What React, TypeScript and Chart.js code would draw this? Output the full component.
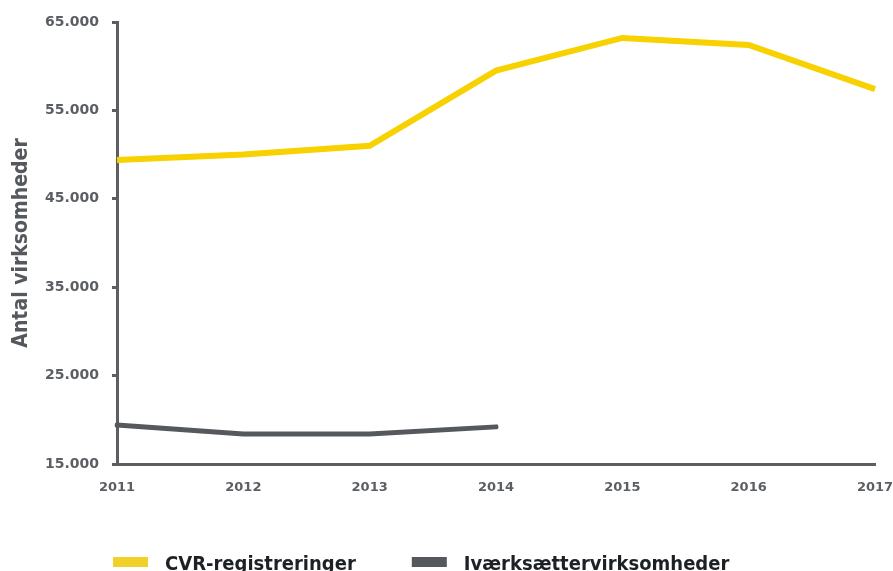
import React, { useEffect, useRef } from "react";
import { Chart, registerables } from "chart.js";

Chart.register(...registerables);

const years = ["2011", "2012", "2013", "2014", "2015", "2016", "2017"];
const cvrValues = [49400, 50000, 51000, 59500, 63200, 62400, 57400];
const ivaerkValues = [19400, 18400, 18400, 19200, null, null, null];
const seriesLabels = ["CVR-registreringer", "Iværksættervirksomheder"];
const yMin = 15000;
const yMax = 65000;
const yStep = 10000;
const yTitle = "Antal virksomheder";

const YELLOW = "#f7d100";
const GRAY = "#55595e";
const AXIS = "#5b5e63";
const FONT = "'DejaVu Sans', sans-serif";
const FONT_C = "'DejaVu Sans Condensed', 'DejaVu Sans', sans-serif";

function fmt(v: number): string {
  const s = Math.round(v).toString();
  return s.replace(/\B(?=(\d{3})+(?!\d))/g, ".");
}

const legendPlugin = {
  id: "customLegend",
  afterDraw(chart: any) {
    const ctx = chart.ctx;
    const ca = chart.chartArea;
    ctx.save();
    ctx.font = `bold 20px ${FONT_C}`;
    ctx.textBaseline = "alphabetic";
    let x = ca.left - 4;
    const boxTop = 557;
    chart.data.datasets.forEach((ds: any) => {
      ctx.fillStyle = ds.legendColor || ds.borderColor;
      ctx.fillRect(x, boxTop, 35, 10);
      const tx = x + 52;
      ctx.fillStyle = "#1d2125";
      ctx.fillText(ds.label, tx, 570);
      x = tx + ctx.measureText(ds.label).width + 56;
    });
    ctx.restore();
  },
};

export default function App() {
  const ref = useRef<HTMLCanvasElement | null>(null);
  useEffect(() => {
    if (!ref.current) return;
    const chart = new Chart(ref.current, {
      type: "line",
      data: {
        labels: years,
        datasets: [
          {
            label: seriesLabels[0],
            data: cvrValues,
            borderColor: YELLOW,
            legendColor: "#f2d02a",
            borderWidth: 6,
            pointRadius: 0,
            tension: 0,
            borderCapStyle: "butt",
            borderJoinStyle: "miter",
          } as any,
          {
            label: seriesLabels[1],
            data: ivaerkValues,
            borderColor: GRAY,
            legendColor: GRAY,
            borderWidth: 5,
            pointRadius: 0,
            tension: 0,
            borderCapStyle: "round",
            borderJoinStyle: "round",
            spanGaps: false,
          } as any,
        ],
      },
      options: {
        animation: false,
        responsive: false,
        maintainAspectRatio: false,
        layout: { padding: { top: 22, right: 18, left: 0, bottom: 0 } },
        plugins: {
          legend: { display: false },
          tooltip: { enabled: false },
        },
        scales: {
          x: {
            offset: false,
            grid: { display: false, drawTicks: false },
            border: { display: true, color: AXIS, width: 3 },
            ticks: {
              color: AXIS,
              padding: 16,
              maxRotation: 0,
              autoSkip: false,
              font: { family: FONT, size: 13, weight: "bold" },
            },
            afterFit: (s: any) => {
              s.height = 107;
              s.paddingRight = 0;
              s.paddingLeft = 0;
            },
          },
          y: {
            min: yMin,
            max: yMax,
            grid: {
              drawOnChartArea: false,
              drawTicks: true,
              tickLength: 5,
              color: AXIS,
              lineWidth: 3,
            },
            border: { display: true, color: AXIS, width: 3 },
            ticks: {
              stepSize: yStep,
              color: AXIS,
              padding: 13,
              font: { family: FONT, size: 14, weight: "bold" },
              callback: (v: any) => fmt(Number(v)),
            },
            title: {
              display: true,
              text: yTitle,
              color: GRAY,
              padding: { top: 9, bottom: 0 },
              font: { family: FONT_C, size: 21, weight: "bold" },
            },
            afterFit: (s: any) => {
              s.width = 117;
              s.paddingTop = 0;
              s.paddingBottom = 0;
            },
          },
        },
      } as any,
      plugins: [legendPlugin],
    });
    return () => chart.destroy();
  }, []);
  return (
    <div style={{ position: "fixed", left: 0, top: 0, width: 893, height: 571, background: "#fff" }}>
      <canvas ref={ref} width={893} height={571} style={{ width: 893, height: 571, display: "block" }} />
    </div>
  );
}
